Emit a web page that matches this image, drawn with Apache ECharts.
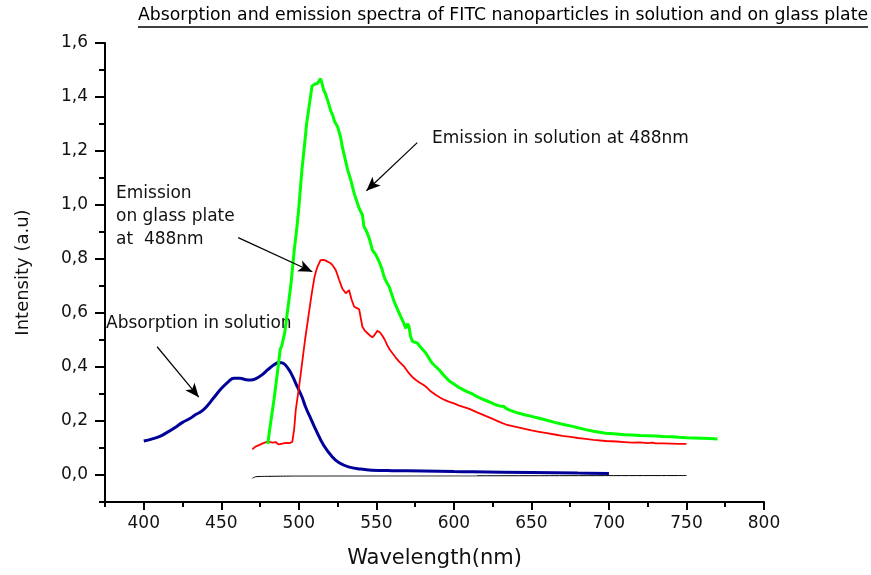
<!DOCTYPE html>
<html>
<head>
<meta charset="utf-8">
<script src="https://cdn.jsdelivr.net/npm/echarts@6/dist/echarts.min.js"></script>
<style>
  html, body { margin: 0; padding: 0; background: #fff; }
  #chart { width: 871px; height: 575px; }
</style>
</head>
<body>
<div id="chart"></div>
<script>
// ----- datos -----
const xMajorTicks = [400, 450, 500, 550, 600, 650, 700, 750, 800];
const xMinorTicks = [375, 425, 475, 525, 575, 625, 675, 725, 775];
const yMajorTicks = [0, 0.2, 0.4, 0.6, 0.8, 1.0, 1.2, 1.4, 1.6];
const yMinorTicks = [-0.1, 0.1, 0.3, 0.5, 0.7, 0.9, 1.1, 1.3, 1.5];

// emision en solucion (verde)
const greenWl = [480, 481, 482, 484, 486, 488, 489, 490, 491, 493, 495, 497, 499, 500, 502, 504, 505, 507, 508.5, 510,
  511, 512, 513, 514, 515, 516, 517, 518, 519, 520.5, 522, 523, 525, 526, 527, 528, 530, 531.5, 533.5, 535.7,
  537, 538.9, 541, 542, 543.5, 545.4, 547.5, 549.7, 551.8, 553.5, 555, 556.5, 558.3, 560, 561.5, 563.5, 565.8, 567.5, 569, 570,
  571, 572, 573.3, 575, 576.5, 579, 582, 584, 586, 588.4, 590.6, 593, 595, 597, 600, 603, 605.6, 608, 610, 612,
  615, 618, 621, 624, 627, 630, 632, 633.6, 636, 640, 645, 650, 655, 660, 665, 670, 676.5, 680, 685, 690,
  698, 705, 710, 715, 720, 725, 730, 735, 741, 745, 750, 755, 760, 765, 770];
const greenI = [0.115, 0.16, 0.2, 0.28, 0.37, 0.465, 0.478, 0.485, 0.53, 0.62, 0.71, 0.83, 0.93, 0.99, 1.13, 1.24, 1.30, 1.38, 1.44, 1.447,
  1.44, 1.45, 1.457, 1.468, 1.45, 1.426, 1.415, 1.41, 1.38, 1.35, 1.33, 1.31, 1.29, 1.284, 1.25, 1.216, 1.167, 1.13, 1.093, 1.043,
  1.02, 0.988, 0.963, 0.92, 0.905, 0.877, 0.833, 0.815, 0.79, 0.765, 0.734, 0.715, 0.697, 0.668, 0.642, 0.615, 0.586, 0.565, 0.543, 0.56,
  0.552, 0.515, 0.494, 0.492, 0.488, 0.47, 0.451, 0.432, 0.414, 0.401, 0.389, 0.372, 0.36, 0.348, 0.337, 0.325, 0.317, 0.31, 0.305, 0.30,
  0.29, 0.282, 0.275, 0.268, 0.26, 0.255, 0.255, 0.247, 0.24, 0.232, 0.224, 0.217, 0.21, 0.203, 0.195, 0.188, 0.18, 0.175, 0.168, 0.162,
  0.155, 0.152, 0.149, 0.148, 0.146, 0.145, 0.144, 0.143, 0.142, 0.14, 0.138, 0.137, 0.136, 0.135, 0.133];

// emision sobre vidrio (rojo)
const redWl = [470, 472, 474, 476, 478, 480, 481, 483, 485, 487, 488, 490, 492, 494, 495.8, 497, 498, 500, 502, 504,
  506, 508, 510, 511, 512, 514, 516, 517.4, 519, 520.6, 522, 523.8, 525, 526, 528, 530.3, 531.5, 532.4, 534, 535.7,
  537.5, 538.9, 541, 542.5, 544.3, 546, 547.5, 549, 550.7, 552.5, 554, 555.5, 557, 558.5, 560.4, 562.5, 564.7, 566.5, 568, 570,
  571, 573, 575.5, 578, 580, 582, 585, 588.4, 591, 594, 597, 600, 603, 606, 610, 615, 620, 625, 630, 633.6,
  640, 645, 650, 655, 660, 665, 670, 676.5, 680, 685, 690, 698, 705, 710, 715, 720, 725, 728, 730, 735,
  740, 745, 750];
const redI = [0.095, 0.105, 0.11, 0.115, 0.12, 0.124, 0.127, 0.12, 0.122, 0.113, 0.111, 0.117, 0.119, 0.118, 0.123, 0.17, 0.24, 0.32, 0.41, 0.5,
  0.58, 0.66, 0.73, 0.753, 0.771, 0.796, 0.797, 0.794, 0.789, 0.784, 0.775, 0.759, 0.74, 0.722, 0.691, 0.673, 0.68, 0.685, 0.65, 0.623,
  0.618, 0.614, 0.549, 0.535, 0.525, 0.516, 0.51, 0.52, 0.534, 0.527, 0.515, 0.5, 0.481, 0.466, 0.451, 0.435, 0.42, 0.41, 0.401, 0.385,
  0.377, 0.364, 0.352, 0.342, 0.335, 0.327, 0.31, 0.296, 0.287, 0.278, 0.271, 0.265, 0.258, 0.252, 0.245, 0.232, 0.22, 0.208, 0.195, 0.187,
  0.178, 0.172, 0.165, 0.16, 0.155, 0.15, 0.145, 0.14, 0.137, 0.134, 0.13, 0.126, 0.124, 0.122, 0.12, 0.121, 0.118, 0.12, 0.117, 0.117,
  0.116, 0.115, 0.115];

// absorcion en solucion (azul)
const blueWl = [400, 405, 410, 414, 420, 425, 430, 433, 437, 440, 445, 450, 455, 458, 462, 466, 469, 472, 476, 480,
  484, 487, 490, 493.7, 496, 499, 502, 504.5, 508, 511, 516, 521.5, 526, 532, 540, 547, 560, 580, 600, 612,
  650, 680, 700];
const blueI = [0.126, 0.133, 0.142, 0.154, 0.175, 0.195, 0.21, 0.222, 0.235, 0.25, 0.285, 0.32, 0.348, 0.358, 0.358, 0.353, 0.352, 0.356, 0.37, 0.39,
  0.408, 0.417, 0.414, 0.389, 0.365, 0.327, 0.29, 0.25, 0.205, 0.167, 0.11, 0.068, 0.045, 0.03, 0.022, 0.018, 0.016, 0.015, 0.013, 0.012,
  0.009, 0.007, 0.006];

// linea base (negro) y tramo gris
const baseWl = [470, 471, 473, 480, 500, 600, 750];
const baseI = [-0.013, -0.009, -0.006, -0.005, -0.004, -0.003, -0.002];
const grayWl = [495, 615];
const grayI = [-0.003, -0.002];

// flechas de anotacion [desde, hasta] en unidades de datos
const arrows = [
  [[576.4, 1.231], [543.6, 1.053]],
  [[460.9, 0.879], [508.7, 0.753]],
  [[408.6, 0.475], [435.5, 0.288]]
];

function zip(xs, ys) { return xs.map((x, i) => [x, ys[i]]); }
function coma(v) { return v.toFixed(1).replace('.', ','); }

const FONT = 'DejaVu Sans';
const chart = echarts.init(document.getElementById('chart'));

const option = {
  backgroundColor: '#fff',
  animation: false,
  grid: { left: 105, top: 43, right: 107, bottom: 73 },
  xAxis: [{
    type: 'value', min: 375, max: 800, interval: 25,
    name: 'Wavelength(nm)', nameLocation: 'middle', nameGap: 46,
    nameTextStyle: { fontFamily: FONT, fontSize: 21, color: '#111' },
    axisLine: { onZero: false, lineStyle: { color: '#000', width: 2 } },
    axisTick: { customValues: xMajorTicks, length: 8, lineStyle: { color: '#000', width: 2 } },
    axisLabel: { customValues: xMajorTicks, margin: 13, fontFamily: FONT, fontSize: 17, color: '#111' },
    splitLine: { show: false }
  }, {
    type: 'value', min: 375, max: 800, interval: 25, position: 'bottom',
    axisLine: { show: false, onZero: false },
    axisTick: { customValues: xMinorTicks, length: 5, lineStyle: { color: '#000', width: 2 } },
    axisLabel: { show: false },
    splitLine: { show: false }
  }],
  yAxis: [{
    type: 'value', min: -0.1, max: 1.6, interval: 0.1,
    name: 'Intensity (a.u)', nameLocation: 'middle', nameGap: 73, nameRotate: 90,
    nameTextStyle: { fontFamily: FONT, fontSize: 18, color: '#111' },
    axisLine: { onZero: false, lineStyle: { color: '#000', width: 2 } },
    axisTick: { customValues: yMajorTicks, length: 10, lineStyle: { color: '#000', width: 2 } },
    axisLabel: { customValues: yMajorTicks, margin: 17, fontFamily: FONT, fontSize: 17, color: '#111', formatter: coma },
    splitLine: { show: false }
  }, {
    type: 'value', min: -0.1, max: 1.6, interval: 0.1, position: 'left',
    axisLine: { show: false, onZero: false },
    axisTick: { customValues: yMinorTicks, length: 6, lineStyle: { color: '#000', width: 2 } },
    axisLabel: { show: false },
    splitLine: { show: false }
  }],
  series: [
    {
      name: 'base', type: 'line', data: zip(baseWl, baseI), showSymbol: false, smooth: true,
      lineStyle: { color: '#000', width: 1 }, silent: true,
      markLine: {
        silent: true, symbol: ['none', 'arrow'], symbolSize: [9, 14],
        label: { show: false },
        lineStyle: { color: '#000', width: 1.2, type: 'solid' },
        data: arrows.map(a => [{ coord: a[0] }, { coord: a[1] }])
      }
    },
    {
      name: 'gray', type: 'line', data: zip(grayWl, grayI), showSymbol: false,
      lineStyle: { color: '#999', width: 1.2 }, silent: true
    },
    {
      name: 'absorption', type: 'line', data: zip(blueWl, blueI), showSymbol: false, smooth: 0.4,
      lineStyle: { color: '#000099', width: 3 }
    },
    {
      name: 'glass', type: 'line', data: zip(redWl, redI), showSymbol: false,
      lineStyle: { color: '#ff0000', width: 1.8 }
    },
    {
      name: 'solution', type: 'line', data: zip(greenWl, greenI), showSymbol: false,
      lineStyle: { color: '#00ff00', width: 3 }
    }
  ],
  graphic: [
    { type: 'text', left: 138, top: 7,
      style: { text: 'Absorption and emission spectra of FITC nanoparticles in solution and on glass plate',
        font: '17.3px "DejaVu Sans"', fill: '#000' } },
    { type: 'line', shape: { x1: 138, y1: 27, x2: 868, y2: 27 }, style: { stroke: '#000', lineWidth: 1.5 } },
    { type: 'text', left: 432, top: 130,
      style: { text: 'Emission in solution at 488nm', font: '17px "DejaVu Sans"', fill: '#111' } },
    { type: 'text', left: 116, top: 182,
      style: { text: 'Emission\non glass plate\nat  488nm', font: '17px "DejaVu Sans"', fill: '#111', lineHeight: 23 } },
    { type: 'text', left: 106, top: 315,
      style: { text: 'Absorption in solution', font: '17px "DejaVu Sans"', fill: '#111' } }
  ]
};

chart.setOption(option);
</script>
</body>
</html>
